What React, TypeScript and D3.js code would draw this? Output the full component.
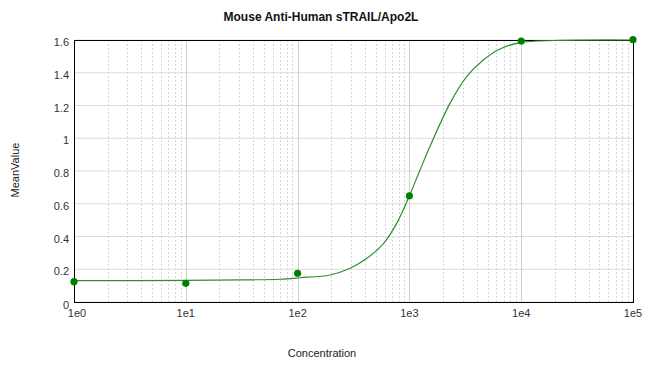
import React from "react";
import * as d3 from "d3";

// measured points
const concentrations = [1, 10, 100, 1000, 10000, 100000];
const meanValues = [0.124, 0.114, 0.175, 0.649, 1.594, 1.602];

// fitted curve
const fitConcentrations = [1, 10, 32, 69, 105, 195, 295, 417, 589, 769, 1000, 1245, 1479, 2307, 3251, 4581, 6457, 9772, 19950, 100000];
const fitValues = [0.13, 0.132, 0.135, 0.139, 0.148, 0.165, 0.206, 0.267, 0.358, 0.48, 0.649, 0.806, 0.928, 1.213, 1.376, 1.478, 1.545, 1.584, 1.597, 1.6];

const yTicks = [0, 0.2, 0.4, 0.6, 0.8, 1, 1.2, 1.4, 1.6];
const xTicks = [1, 10, 100, 1000, 10000, 100000];
const xTickLabels = ["1e0", "1e1", "1e2", "1e3", "1e4", "1e5"];

const title = "Mouse Anti-Human sTRAIL/Apo2L";
const xTitle = "Concentration";
const yTitle = "MeanValue";

const W = 650;
const H = 369;
const margin = { top: 40, right: 17, bottom: 67, left: 74 };
const font = "'Liberation Sans', Arial, sans-serif";

export default function App() {
  const x = d3.scaleLog().domain([1, 100000]).range([margin.left, W - margin.right]);
  const y = d3.scaleLinear().domain([0, 1.6]).range([H - margin.bottom, margin.top]);

  // minor grid: 2..9 in each decade
  const minor: number[] = [];
  for (let d = 0; d < 5; d++) {
    for (let k = 2; k <= 9; k++) minor.push(k * Math.pow(10, d));
  }

  const line = d3
    .line<number>()
    .x((d, i) => x(fitConcentrations[i]))
    .y((d) => y(d))
    .curve(d3.curveCatmullRom.alpha(0.5));

  const x0 = margin.left;
  const x1 = W - margin.right;
  const y0 = H - margin.bottom;
  const y1 = margin.top;

  return (
    <svg width={W} height={H} style={{ position: "absolute", left: 0, top: 0, background: "#fff" }}>
      <text x={321} y={21} textAnchor="middle" fontFamily={font} fontWeight="bold" fontSize={12} fill="#111">
        {title}
      </text>

      {/* grid */}
      {yTicks.map((t) => (
        <line key={"h" + t} x1={x0} x2={x1} y1={y(t)} y2={y(t)} stroke="#dcdcdc" strokeWidth={1} />
      ))}
      {minor.map((t) => (
        <line key={"m" + t} x1={Math.round(x(t)) + 0.5} x2={Math.round(x(t)) + 0.5} y1={y1} y2={y0} stroke="#d6d6d6" strokeWidth={1} strokeDasharray="2,2" />
      ))}
      {xTicks.map((t) => (
        <line key={"v" + t} x1={Math.round(x(t)) + 0.5} x2={Math.round(x(t)) + 0.5} y1={y1} y2={y0} stroke="#d0d0d0" strokeWidth={1} />
      ))}

      {/* frame */}
      <rect x={x0 + 0.5} y={y1 + 0.5} width={x1 - x0} height={y0 - y1} fill="none" stroke="#000" strokeWidth={1} />

      {/* fitted curve */}
      <path d={line(fitValues) || ""} fill="none" stroke="#2f8f2f" strokeWidth={1.2} />

      {/* points */}
      {concentrations.map((c, i) => (
        <circle key={"p" + i} cx={x(c)} cy={y(meanValues[i])} r={3.6} fill="#008000" />
      ))}

      {/* y tick labels */}
      {yTicks.map((t) => (
        <text key={"yl" + t} x={69} y={y(t) + (t === 0 ? 7 : 6)} textAnchor="end" fontFamily={font} fontSize={11} fill="#333">
          {d3.format("~g")(t)}
        </text>
      ))}
      {/* x tick labels */}
      {xTicks.map((t, i) => (
        <text key={"xl" + t} x={x(t) + (i === 0 ? 3 : 0)} y={317} textAnchor="middle" fontFamily={font} fontSize={11} fill="#333">
          {xTickLabels[i]}
        </text>
      ))}

      <text x={322} y={357} textAnchor="middle" fontFamily={font} fontSize={11} fill="#222">
        {xTitle}
      </text>
      <text transform="translate(19,170) rotate(-90)" textAnchor="middle" fontFamily={font} fontSize={11} fill="#222">
        {yTitle}
      </text>
    </svg>
  );
}
